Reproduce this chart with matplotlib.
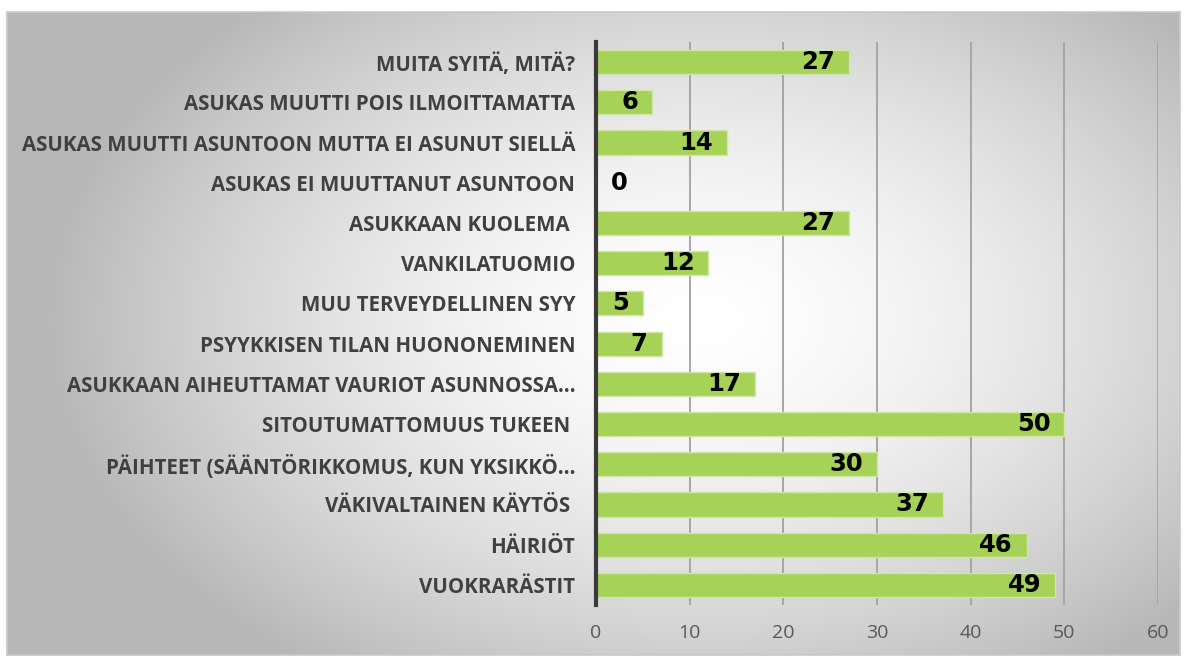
import numpy as np
import matplotlib.pyplot as plt

# data, top to bottom as in the chart
categories = [
    "MUITA SYITÄ, MITÄ?",
    "ASUKAS MUUTTI POIS ILMOITTAMATTA",
    "ASUKAS MUUTTI ASUNTOON MUTTA EI ASUNUT SIELLÄ",
    "ASUKAS EI MUUTTANUT ASUNTOON",
    "ASUKKAAN KUOLEMA ",
    "VANKILATUOMIO",
    "MUU TERVEYDELLINEN SYY",
    "PSYYKKISEN TILAN HUONONEMINEN",
    "ASUKKAAN AIHEUTTAMAT VAURIOT ASUNNOSSA…",
    "SITOUTUMATTOMUUS TUKEEN ",
    "PÄIHTEET (SÄÄNTÖRIKKOMUS, KUN YKSIKKÖ…",
    "VÄKIVALTAINEN KÄYTÖS ",
    "HÄIRIÖT",
    "VUOKRARÄSTIT",
]
counts = [27, 6, 14, 0, 27, 12, 5, 7, 17, 50, 30, 37, 46, 49]
x_ticks = [0, 10, 20, 30, 40, 50, 60]

W, H = 1188, 660
fig = plt.figure(figsize=(W / 100, H / 100), dpi=100)
fig.patch.set_facecolor("white")

# radial gradient background of the chart area
bg = fig.add_axes([7 / W, 1 - 655 / H, (1180 - 7) / W, (655 - 12) / H], zorder=0)
gx, gy = np.meshgrid(np.linspace(7, 1180, 400), np.linspace(12, 655, 220))
r = np.sqrt(((gx - 700) / 640) ** 2 + ((gy - 320) / 420) ** 2)
shade = np.clip(1 - 0.27 * r ** 1.6, 0.72, 1.0)
bg.imshow(np.dstack([shade] * 3), aspect="auto", extent=[0, 1, 0, 1])
bg.set_xticks([])
bg.set_yticks([])
for s in bg.spines.values():
    s.set_color("#c8c8c8")
    s.set_linewidth(1.2)

ax = fig.add_axes([596 / W, 1 - 605 / H, (1158 - 596) / W, (605 - 42) / H], zorder=1)
ax.patch.set_alpha(0)

y = np.arange(len(categories))
bars = ax.barh(y, counts, height=0.6, color="#a6d257", edgecolor="#cfe6a8",
               linewidth=1, zorder=3)
ax.set_ylim(len(categories) - 0.5, -0.5)
ax.set_xlim(0, 60)

ax.set_xticks(x_ticks)
ax.set_xticklabels([str(t) for t in x_ticks], fontsize=14, color="#595959",
                   family="Open Sans")
ax.set_yticks(y)
ax.set_yticklabels(categories, fontsize=14.8, fontweight="bold", color="#404040",
                   family="Open Sans")
ax.tick_params(axis="y", length=0, pad=15)
ax.tick_params(axis="x", length=0, pad=14)

ax.grid(axis="x", color="#a6a6a6", linewidth=1.4, zorder=1)
for side in ["top", "right", "bottom"]:
    ax.spines[side].set_visible(False)
ax.spines["left"].set_color("#3a3a3a")
ax.spines["left"].set_linewidth(3)
ax.spines["left"].set_zorder(4)

for yi, v in zip(y, counts):
    if v == 0:
        ax.annotate(str(v), (v, yi), xytext=(11, 0), textcoords="offset points",
                    ha="left", va="center", fontsize=17.5, fontweight="bold",
                    color="black", zorder=5)
    else:
        ax.annotate(str(v), (v, yi), xytext=(-10, 0), textcoords="offset points",
                    ha="right", va="center", fontsize=17.5, fontweight="bold",
                    color="black", zorder=5)

fig.savefig("out.png", dpi=100)
